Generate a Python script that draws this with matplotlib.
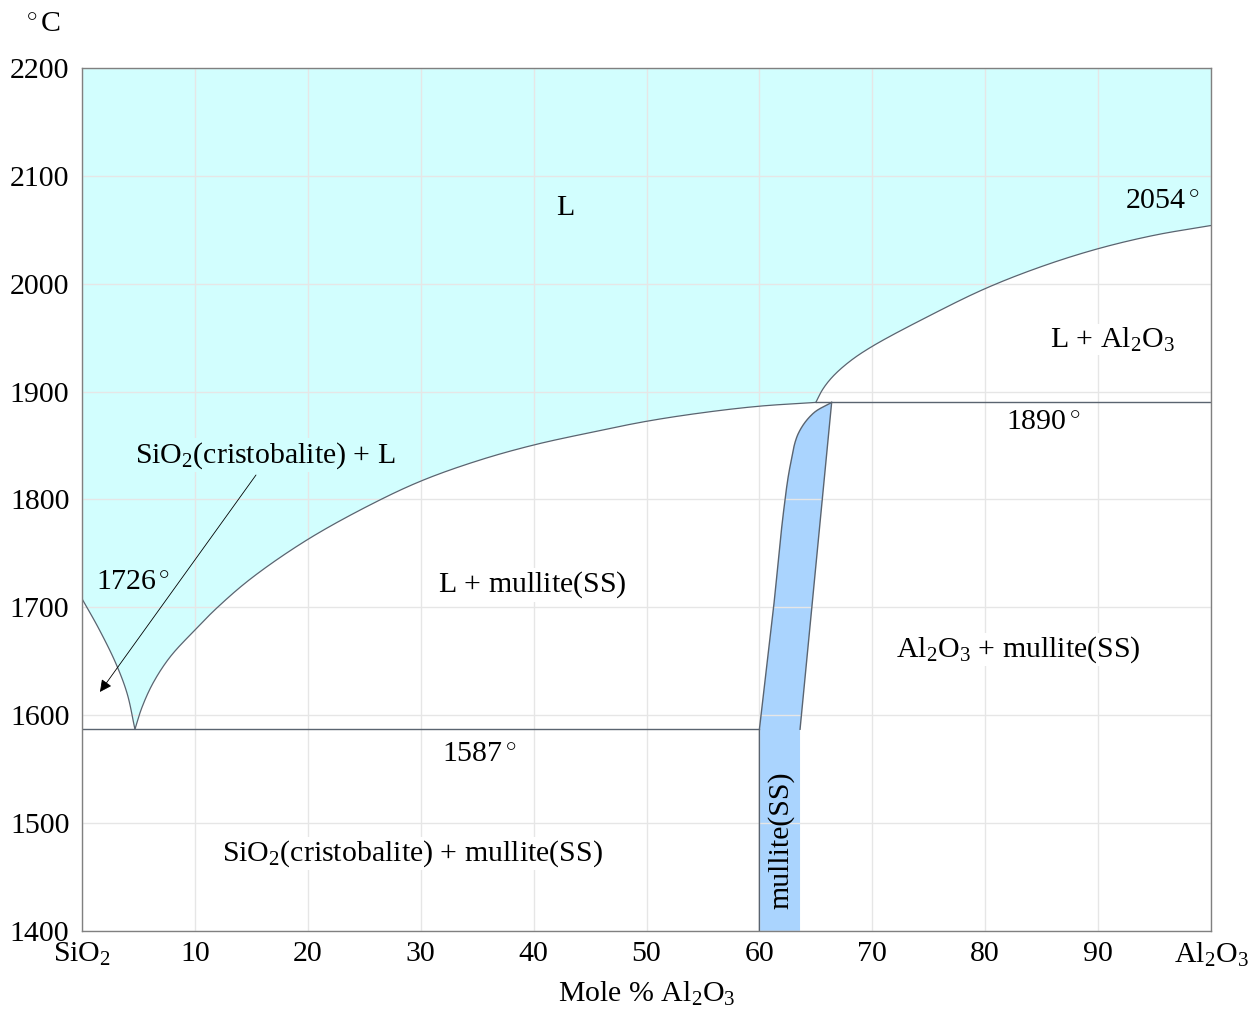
import matplotlib.pyplot as plt
import numpy as np

plt.rcParams['font.family'] = ['Liberation Serif', 'DejaVu Serif']
plt.rcParams['mathtext.fontset'] = 'custom'
plt.rcParams['mathtext.rm'] = 'Liberation Serif'
plt.rcParams['mathtext.it'] = 'Liberation Serif:italic'

# liquidus, SiO2 side (from pure SiO2 down to the eutectic)
liq_sio2_x = [0.0, 1.5, 3.0, 4.0, 4.69]
liq_sio2_t = [1708, 1680, 1648, 1620, 1587]

# liquidus, mullite branch (eutectic up to 1890)
liq_mul_x = [4.69, 5.3, 6.3, 7.8, 10, 12, 15, 20, 25.8, 30.23, 35.25,
             40, 45, 50, 55, 60, 65]
liq_mul_t = [1587, 1607, 1630, 1654, 1679, 1700, 1727, 1763, 1796.5, 1818, 1836.6,
             1850.5, 1862, 1872.5, 1880.5, 1886.5, 1890]

# liquidus, Al2O3 branch
liq_al_x = [65, 65.6, 66.5, 68, 70, 75, 80, 85, 90, 95, 100]
liq_al_t = [1890, 1902, 1914, 1928, 1942, 1970, 1995.5, 2016, 2032.5, 2045, 2054]

# mullite solid solution boundaries
mul_left_x = [60.0, 61.23, 62.12, 62.71, 63.45, 64.78, 66.4]
mul_left_t = [1587, 1697.6, 1787.2, 1830.4, 1861.3, 1880, 1890]
mul_right_x = [66.4, 63.6, 63.6]
mul_right_t = [1890, 1587, 1400]

eutectic_t = 1587
peritectic_t = 1890

xticks = [0, 10, 20, 30, 40, 50, 60, 70, 80, 90, 100]
xticklabels = ['SiO$_2$', '10', '20', '30', '40', '50', '60', '70', '80', '90', 'Al$_2$O$_3$']
yticks = [1400, 1500, 1600, 1700, 1800, 1900, 2000, 2100, 2200]

cyan = '#d2fefe'
blue = '#aad4fe'
line_c = '#5a6470'
fs = 21.5


def smooth(xs, ys, n=30):
    # centripetal catmull-rom through the read points, done in screen-ish units
    p = np.column_stack([np.asarray(xs) * 11.29, np.asarray(ys) * 1.0788])
    p = np.vstack([2 * p[0] - p[1], p, 2 * p[-1] - p[-2]])
    out = [p[1]]
    for i in range(1, len(p) - 2):
        p0, p1, p2, p3 = p[i - 1], p[i], p[i + 1], p[i + 2]
        t0 = 0.0
        t1 = t0 + np.linalg.norm(p1 - p0) ** 0.5
        t2 = t1 + np.linalg.norm(p2 - p1) ** 0.5
        t3 = t2 + np.linalg.norm(p3 - p2) ** 0.5
        t = np.linspace(t1, t2, n)[1:, None]
        a1 = (t1 - t) / (t1 - t0) * p0 + (t - t0) / (t1 - t0) * p1
        a2 = (t2 - t) / (t2 - t1) * p1 + (t - t1) / (t2 - t1) * p2
        a3 = (t3 - t) / (t3 - t2) * p2 + (t - t2) / (t3 - t2) * p3
        b1 = (t2 - t) / (t2 - t0) * a1 + (t - t0) / (t2 - t0) * a2
        b2 = (t3 - t) / (t3 - t1) * a2 + (t - t1) / (t3 - t1) * a3
        c = (t2 - t) / (t2 - t1) * b1 + (t - t1) / (t2 - t1) * b2
        out.extend(c)
    out = np.array(out)
    return out[:, 0] / 11.29, out[:, 1] / 1.0788


fig = plt.figure(figsize=(12.49, 10.16), dpi=100)
ax = fig.add_axes([82/1249, 1-931/1016, (1211-82)/1249, (931-68)/1016])
ax.set_xlim(0, 100)
ax.set_ylim(1400, 2200)

s1x, s1t = smooth(liq_sio2_x, liq_sio2_t)
s2x, s2t = smooth(liq_mul_x, liq_mul_t)
s3x, s3t = smooth(liq_al_x, liq_al_t)
mlx, mlt = smooth(mul_left_x, mul_left_t)

# liquid region
lx = np.concatenate([[0], s1x, s2x[1:], s3x[1:], [100]])
lt = np.concatenate([[2200], s1t, s2t[1:], s3t[1:], [2200]])
ax.fill(lx, lt, color=cyan, lw=0, zorder=1)

# mullite(SS)
mx = np.concatenate([[60], mlx, mul_right_x])
mt = np.concatenate([[1400], mlt, mul_right_t])
ax.fill(mx, mt, color=blue, lw=0, zorder=1)

ax.grid(True, color='#e6e6e6', lw=1.0, zorder=2)
ax.set_axisbelow(False)

ax.plot(s1x, s1t, color=line_c, lw=0.9, zorder=3)
ax.plot(s2x, s2t, color=line_c, lw=0.9, zorder=3)
ax.plot(s3x, s3t, color=line_c, lw=0.9, zorder=3)
ax.plot(np.concatenate([[60], mlx]), np.concatenate([[1400], mlt]), color=line_c, lw=1.0, zorder=3)
ax.plot(mul_right_x[:2], mul_right_t[:2], color=line_c, lw=1.0, zorder=3)
ax.plot([0, 60], [eutectic_t, eutectic_t], color=line_c, lw=1.0, zorder=3)
ax.plot([65, 100], [peritectic_t, peritectic_t], color=line_c, lw=1.0, zorder=3)

ax.set_xticks(xticks)
ax.set_xticklabels(xticklabels)
ax.set_yticks(yticks)
ax.tick_params(axis='y', length=0, labelsize=fs, pad=9)
ax.tick_params(axis='x', length=0, labelsize=fs, pad=7)
for s in ax.spines.values():
    s.set_color('#808080')
    s.set_linewidth(1.0)
    s.set_zorder(4)

ax.set_xlabel('Mole % Al$_2$O$_3$', fontsize=fs, labelpad=8)
fig.text(42/1249, 1-25/1016, r'$^\circ\mathrm{C}$', fontsize=fs, ha='center', va='center')


def label(x, y, s, bg, **kw):
    ax.text(x, y, s, fontsize=fs, ha='center', va='center', zorder=5,
            bbox=dict(facecolor=bg, edgecolor='none', pad=1), **kw)


label(42.8, 2070, 'L', cyan)
label(95.7, 2076, r'$2054^\circ$', cyan)
label(91.3, 1948, r'L $+$ Al$_2$O$_3$', 'white')
label(85.1, 1871, r'$1890^\circ$', 'white')
label(16.2, 1841, r'SiO$_2$(cristobalite) $+$ L', cyan)
label(4.5, 1723, r'$1726^\circ$', cyan)
label(39.9, 1721, r'L $+$ mullite(SS)', 'white')
label(82.9, 1661, r'Al$_2$O$_3$ $+$ mullite(SS)', 'white')
label(35.2, 1563, r'$1587^\circ$', 'white')
label(29.3, 1472, r'SiO$_2$(cristobalite) $+$ mullite(SS)', 'white')
ax.text(61.9, 1484, 'mullite(SS)', fontsize=fs, ha='center', va='center',
        rotation=90, zorder=5)

ax.annotate('', xy=(1.59, 1621.6), xytext=(15.41, 1822.7), zorder=5,
            arrowprops=dict(arrowstyle='-|>', color='black', lw=0.6,
                            mutation_scale=18, shrinkA=0, shrinkB=0))

fig.savefig('out.png', dpi=100)
